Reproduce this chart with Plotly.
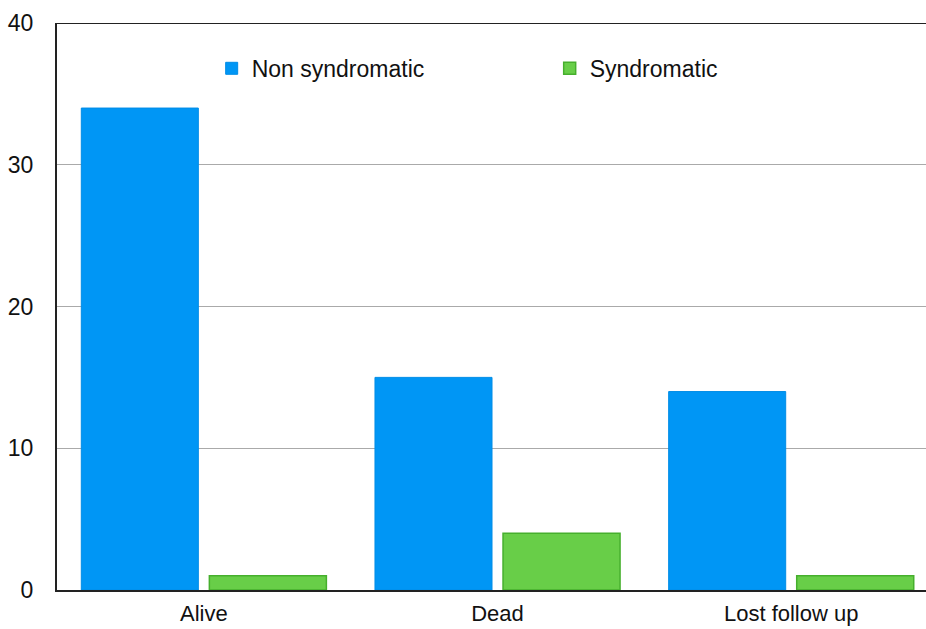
import plotly.graph_objects as go

categories = ["Alive", "Dead", "Lost follow up"]
non_syndromatic = [34, 15, 14]
syndromatic = [1, 4, 1]
y_ticks = [0, 10, 20, 30, 40]

fig = go.Figure()
fig.add_trace(go.Bar(x=categories, y=non_syndromatic, name="Non syndromatic",
                     marker=dict(color="rgb(0,150,245)", line=dict(color="rgb(0,140,230)", width=1))))
fig.add_trace(go.Bar(x=categories, y=syndromatic, name="Syndromatic",
                     marker=dict(color="rgb(104,206,72)", line=dict(color="rgb(70,175,45)", width=1.5))))

fig.update_layout(
    width=926, height=629,
    margin=dict(l=57, r=0, t=23, b=39),
    paper_bgcolor="white", plot_bgcolor="white",
    font=dict(family="Liberation Sans, Arial", size=23, color="#111"),
    barmode="group", bargap=0.128, bargroupgap=0.086,
    showlegend=True,
    legend=dict(orientation="h", x=0.178, xanchor="left", y=0.92, yanchor="middle",
                font=dict(size=23, color="#111"), entrywidth=293, entrywidthmode="pixels",
                bgcolor="rgba(0,0,0,0)"),
    xaxis=dict(range=[-0.5, 2.459], showline=True, linecolor="#222", linewidth=2,
               showgrid=False, ticks="", ticklabelstandoff=3, automargin=False,
               tickfont=dict(size=22)),
    yaxis=dict(range=[0, 40], tickvals=y_ticks, showline=True, linecolor="#222", linewidth=2,
               showgrid=True, gridcolor="#aaaaaa", gridwidth=1, ticks="", zeroline=False,
               ticklabelstandoff=17, automargin=False),
    shapes=[dict(type="line", xref="paper", yref="y", x0=0, x1=1, y0=40, y1=40,
                 line=dict(color="#222", width=2))],
)

fig.write_html("out.html", config={"displayModeBar": False},
               post_script="document.body.style.margin='0';document.body.style.overflow='hidden';")
